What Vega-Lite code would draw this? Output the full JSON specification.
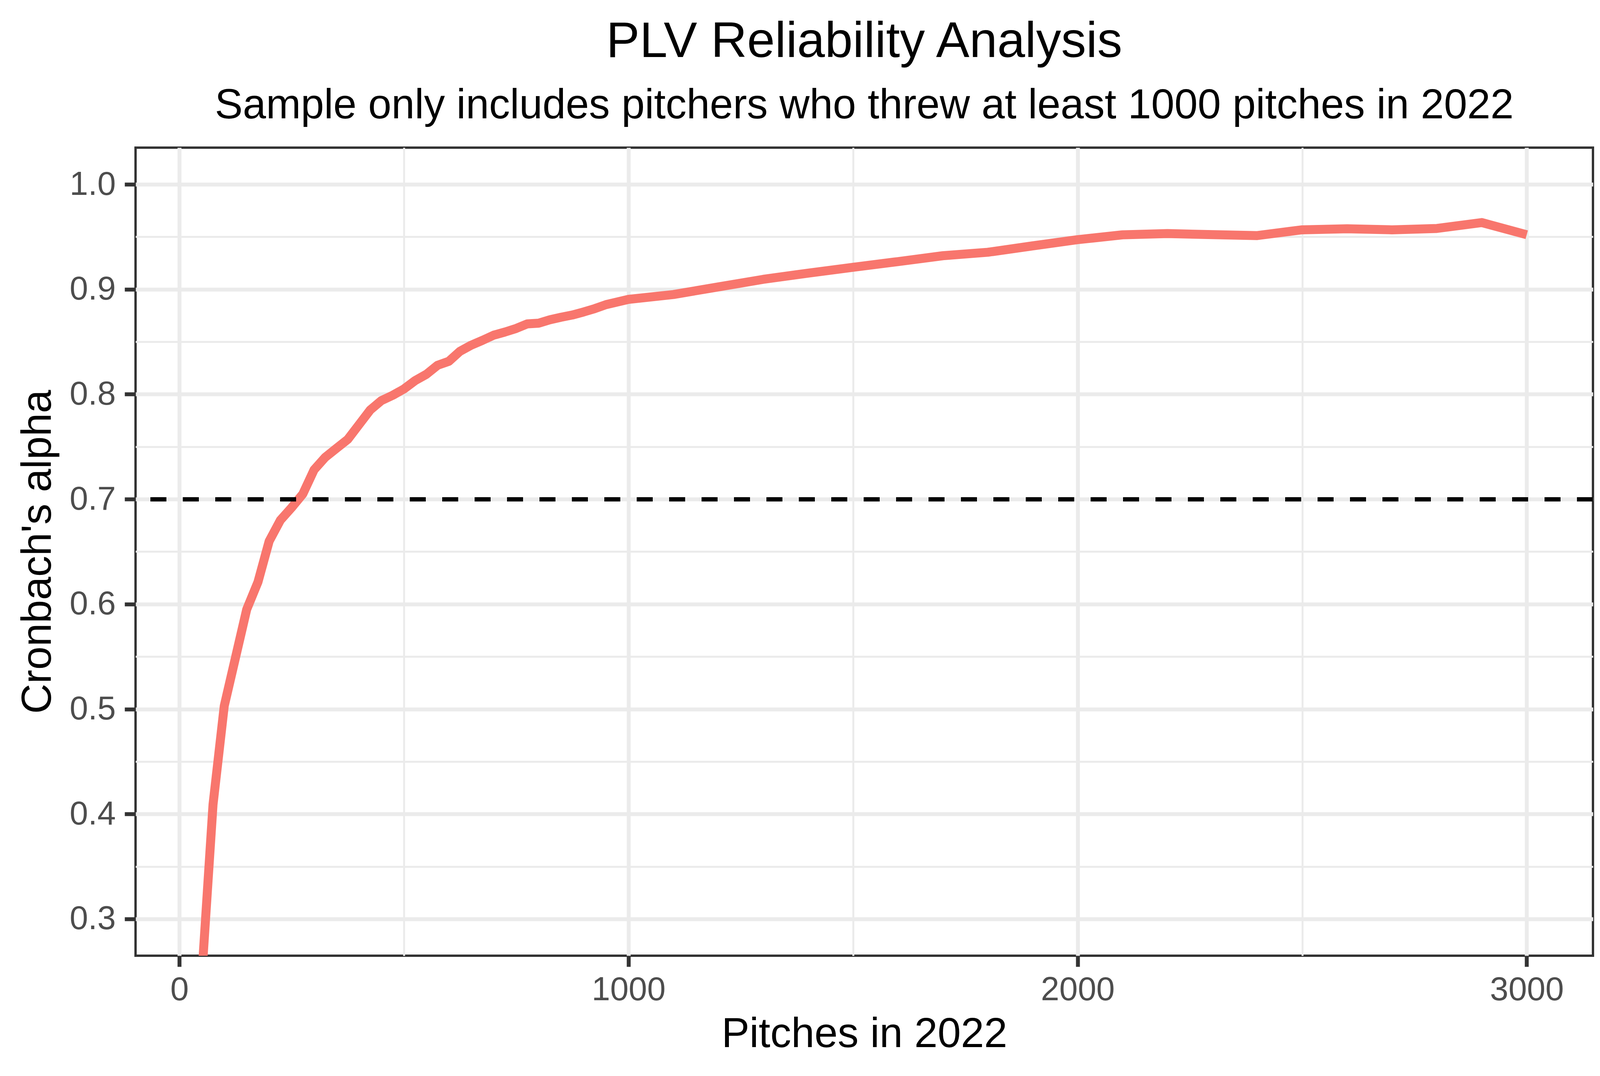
{
  "$schema": "https://vega.github.io/schema/vega-lite/v6.json",
  "description": "PLV reliability: Cronbach's alpha by pitch count.",
  "width": 3731,
  "height": 2069,
  "autosize": "none",
  "padding": {"left": 347, "top": 378, "right": 55, "bottom": 308},
  "background": "white",
  "title": {
    "text": "PLV Reliability Analysis",
    "subtitle": "Sample only includes pitchers who threw at least 1000 pitches in 2022",
    "anchor": "middle",
    "frame": "group",
    "font": "Liberation Sans",
    "subtitleFont": "Liberation Sans",
    "fontSize": 128,
    "subtitleFontSize": 107,
    "fontWeight": "normal",
    "color": "black",
    "subtitleColor": "black",
    "offset": 53,
    "subtitlePadding": 45
  },
  "data": {
    "values": [
      {"pitches": 50, "alpha": 0.245},
      {"pitches": 75, "alpha": 0.409},
      {"pitches": 100, "alpha": 0.503},
      {"pitches": 125, "alpha": 0.549},
      {"pitches": 150, "alpha": 0.595},
      {"pitches": 175, "alpha": 0.621},
      {"pitches": 200, "alpha": 0.660},
      {"pitches": 225, "alpha": 0.680},
      {"pitches": 250, "alpha": 0.692},
      {"pitches": 275, "alpha": 0.705},
      {"pitches": 300, "alpha": 0.728},
      {"pitches": 325, "alpha": 0.740},
      {"pitches": 350, "alpha": 0.7485},
      {"pitches": 375, "alpha": 0.757},
      {"pitches": 400, "alpha": 0.771},
      {"pitches": 425, "alpha": 0.785},
      {"pitches": 450, "alpha": 0.794},
      {"pitches": 475, "alpha": 0.799},
      {"pitches": 500, "alpha": 0.805},
      {"pitches": 525, "alpha": 0.813},
      {"pitches": 550, "alpha": 0.819},
      {"pitches": 575, "alpha": 0.8276},
      {"pitches": 600, "alpha": 0.8314},
      {"pitches": 625, "alpha": 0.841},
      {"pitches": 650, "alpha": 0.8468},
      {"pitches": 675, "alpha": 0.8514},
      {"pitches": 700, "alpha": 0.8563},
      {"pitches": 725, "alpha": 0.8593},
      {"pitches": 750, "alpha": 0.8627},
      {"pitches": 775, "alpha": 0.8671},
      {"pitches": 800, "alpha": 0.8677},
      {"pitches": 825, "alpha": 0.871},
      {"pitches": 850, "alpha": 0.8734},
      {"pitches": 875, "alpha": 0.8755},
      {"pitches": 900, "alpha": 0.8784},
      {"pitches": 925, "alpha": 0.8816},
      {"pitches": 950, "alpha": 0.8854},
      {"pitches": 975, "alpha": 0.8879},
      {"pitches": 1000, "alpha": 0.8904},
      {"pitches": 1100, "alpha": 0.895},
      {"pitches": 1200, "alpha": 0.9023},
      {"pitches": 1300, "alpha": 0.9095},
      {"pitches": 1400, "alpha": 0.9154},
      {"pitches": 1500, "alpha": 0.921},
      {"pitches": 1600, "alpha": 0.9264},
      {"pitches": 1700, "alpha": 0.932},
      {"pitches": 1800, "alpha": 0.9353},
      {"pitches": 1900, "alpha": 0.9414},
      {"pitches": 2000, "alpha": 0.9473},
      {"pitches": 2100, "alpha": 0.9519},
      {"pitches": 2200, "alpha": 0.9531},
      {"pitches": 2300, "alpha": 0.9521},
      {"pitches": 2400, "alpha": 0.9512},
      {"pitches": 2500, "alpha": 0.9567},
      {"pitches": 2600, "alpha": 0.9577},
      {"pitches": 2700, "alpha": 0.9567},
      {"pitches": 2800, "alpha": 0.958},
      {"pitches": 2900, "alpha": 0.9636},
      {"pitches": 3000, "alpha": 0.952}
    ]
  },
  "layer": [
    {
      "mark": {"type": "line", "color": "#F8766D", "strokeWidth": 23, "strokeJoin": "round", "clip": true},
      "encoding": {
        "x": {
          "field": "pitches",
          "type": "quantitative",
          "scale": {"domain": [-97.5, 3147.5], "nice": false, "zero": false},
          "axis": {
            "title": "Pitches in 2022",
            "values": [0, 500, 1000, 1500, 2000, 2500, 3000],
            "labelExpr": "datum.value % 1000 == 0 ? format(datum.value, 'd') : ''",
            "gridWidth": {"condition": {"test": "datum.value % 1000 == 0", "value": 10}, "value": 5},
            "tickOpacity": {"condition": {"test": "datum.value % 1000 == 0", "value": 1}, "value": 0},
            "labelPadding": 18,
            "titleX": 1865.5,
            "titleY": 233,
            "titleBaseline": "alphabetic",
            "titleAlign": "center"
          }
        },
        "y": {
          "field": "alpha",
          "type": "quantitative",
          "scale": {"domain": [0.265, 1.035], "nice": false, "zero": false},
          "axis": {
            "title": "Cronbach's alpha",
            "values": [0.3, 0.35, 0.4, 0.45, 0.5, 0.55, 0.6, 0.65, 0.7, 0.75, 0.8, 0.85, 0.9, 0.95, 1.0],
            "labelExpr": "abs(datum.value * 10 - round(datum.value * 10)) < 0.001 ? format(datum.value, '.1f') : ''",
            "gridWidth": {"condition": {"test": "abs(datum.value * 10 - round(datum.value * 10)) < 0.001", "value": 10}, "value": 5},
            "tickOpacity": {"condition": {"test": "abs(datum.value * 10 - round(datum.value * 10)) < 0.001", "value": 1}, "value": 0},
            "labelPadding": 23,
            "titleAngle": 270,
            "titleX": -218,
            "titleY": 1034.5,
            "titleBaseline": "alphabetic",
            "titleAlign": "center"
          }
        }
      }
    },
    {
      "mark": {"type": "rule", "color": "black", "strokeWidth": 10, "strokeDash": [41, 42]},
      "encoding": {
        "y": {"datum": 0.7, "type": "quantitative"}
      }
    }
  ],
  "config": {
    "view": {"stroke": "#333333", "strokeWidth": 6, "fill": "white"},
    "axis": {
      "domain": false,
      "grid": true,
      "gridColor": "#EBEBEB",
      "tickColor": "#333333",
      "tickWidth": 10,
      "tickSize": 28,
      "labelFont": "Liberation Sans",
      "labelFontSize": 85,
      "labelLimit": 1000,
      "labelColor": "#4D4D4D",
      "titleFont": "Liberation Sans",
      "titleFontSize": 107,
      "titleFontWeight": "normal",
      "titleColor": "black",
      "titleLimit": 3000
    }
  }
}
